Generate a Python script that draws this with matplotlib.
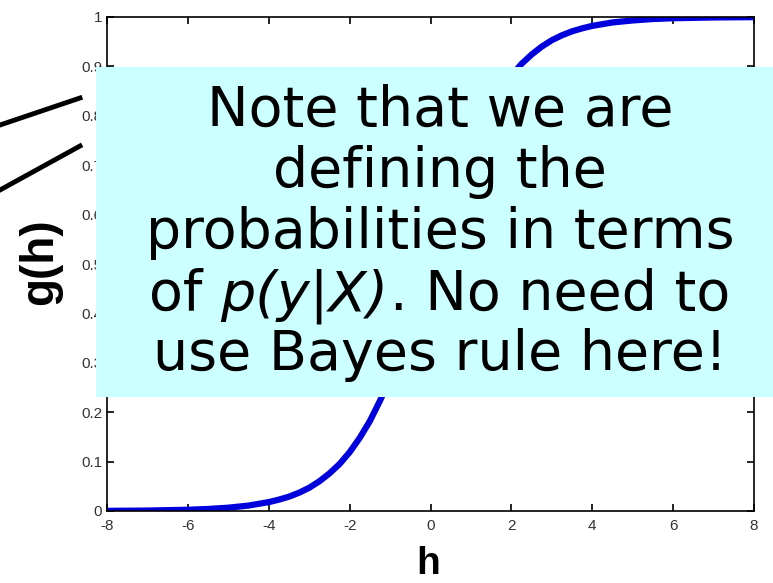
import matplotlib.pyplot as plt
import numpy as np

# sigmoid g(h)
h = [-8, -7, -6, -5.5, -5, -4.5, -4, -3.75, -3.5, -3.25, -3, -2.75, -2.5, -2.25,
     -2, -1.75, -1.5, -1.25, -1, -0.75, -0.5, -0.25, 0, 0.25, 0.5, 0.75, 1,
     1.25, 1.5, 1.75, 2, 2.25, 2.5, 2.75, 3, 3.25, 3.5, 3.75, 4, 4.5, 5, 5.5,
     6, 7, 8]
g = [0.0003, 0.0009, 0.0025, 0.0041, 0.0067, 0.011, 0.018, 0.023, 0.029, 0.037,
     0.047, 0.060, 0.076, 0.095, 0.119, 0.148, 0.182, 0.223, 0.269, 0.321,
     0.378, 0.438, 0.5, 0.562, 0.622, 0.679, 0.731, 0.777, 0.818, 0.852,
     0.881, 0.905, 0.924, 0.940, 0.953, 0.963, 0.971, 0.977, 0.982, 0.989,
     0.993, 0.9959, 0.9975, 0.9991, 0.9997]

xticks = [-8, -6, -4, -2, 0, 2, 4, 6, 8]
yticks = [0, 0.1, 0.2, 0.3, 0.4, 0.5, 0.6, 0.7, 0.8, 0.9, 1]
ytick_labels = ['0', '0.1', '0.2', '0.3', '0.4', '0.5', '0.6', '0.7', '0.8', '0.9', '1']

note_lines = ["Note that we are", "defining the", "probabilities in terms",
              None, "use Bayes rule here!"]
note_line4 = [("of", 'normal'), ("p(y|X)", 'italic'), (". No need to", 'normal')]
baselines = [126, 187, 248, 310, 370]  # pixel rows, from the top

plt.rcParams['font.family'] = ['Liberation Sans', 'DejaVu Sans']
plt.rcParams['axes.unicode_minus'] = False

W, H = 773, 583
fig = plt.figure(figsize=(W / 100, H / 100), dpi=100)
ax = fig.add_axes([107 / W, 1 - 511 / H, (754 - 107) / W, (511 - 17) / H])
ax.plot(h, g, color='#0000dd', lw=4.5, solid_joinstyle='round')
ax.set_xlim(-8, 8)
ax.set_ylim(0, 1)
ax.set_xticks(xticks)
ax.set_yticks(yticks)
ax.set_yticklabels(ytick_labels)
ax.tick_params(direction='in', length=5, labelsize=11, labelcolor='#333333', width=1.2)
ax.tick_params(axis='x', pad=6)
ax.tick_params(top=True, right=True, labeltop=False, labelright=False)
for s in ax.spines.values():
    s.set_linewidth(1.2)

fig.text(40 / W, 1 - 262 / H, 'g(h)', rotation=90, fontsize=33, fontweight='bold',
         ha='center', va='center')
fig.text(428 / W, 1 - 582 / H, 'h', fontsize=28, fontweight='bold',
         ha='center', va='bottom')

# callout box
fig.patches.append(plt.Rectangle((96 / W, 1 - 397 / H), (W - 96) / W, (397 - 67) / H,
                                 transform=fig.transFigure, facecolor='#ccffff',
                                 edgecolor='none', zorder=5))

fs = 40
fam = ['DejaVu Sans']
cx = 440
for line, yb in zip(note_lines, baselines):
    if line is not None:
        fig.text(cx / W, 1 - yb / H, line, fontsize=fs, family=fam, ha='center',
                 va='baseline', zorder=6)

# mixed upright / italic line
r = fig.canvas.get_renderer()
parts = [fig.text(0, 1 - baselines[3] / H, s, fontsize=fs, family=fam, style=st,
                  ha='left', va='baseline', zorder=6) for s, st in note_line4]
t1 = fig.text(0, 0, 'oo', fontsize=fs, family=fam)
t2 = fig.text(0, 0, 'o o', fontsize=fs, family=fam)
space = t2.get_window_extent(r).width - t1.get_window_extent(r).width
t1.remove()
t2.remove()
widths = [p.get_window_extent(r).width for p in parts]
gaps = [space, 2, 0]
total = sum(widths) + sum(gaps[:2])
x = cx - total / 2
for p, w, gp in zip(parts, widths, gaps):
    p.set_x(x / W)
    x += w + gp

# pointer lines
fig.add_artist(plt.Line2D([0, 80 / W], [1 - 125 / H, 1 - 98 / H], color='black', lw=3.5,
                          transform=fig.transFigure))
fig.add_artist(plt.Line2D([0, 80 / W], [1 - 190 / H, 1 - 146 / H], color='black', lw=3.5,
                          transform=fig.transFigure))

fig.savefig('out.png', dpi=100)
